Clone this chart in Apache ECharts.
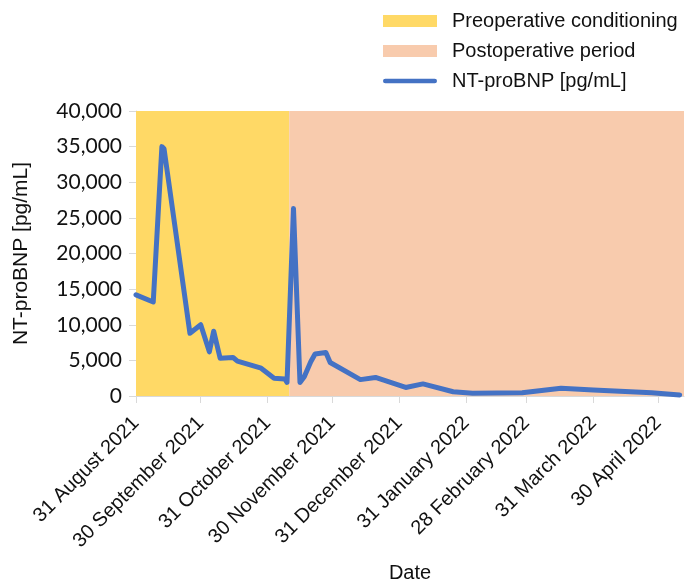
<!DOCTYPE html>
<html>
<head>
<meta charset="utf-8">
<script src="https://cdn.jsdelivr.net/npm/echarts@6/dist/echarts.min.js"></script>
<style>html,body{margin:0;padding:0;background:#fff}#c{width:692px;height:583px}</style>
</head>
<body>
<div id="c"></div>
<script>
// Data
const dates = ['2021-08-31','2021-09-08','2021-09-12','2021-09-13','2021-09-25','2021-09-30','2021-10-04','2021-10-06','2021-10-09','2021-10-15','2021-10-17','2021-10-28','2021-11-03','2021-11-08','2021-11-09','2021-11-12','2021-11-15','2021-11-17','2021-11-20','2021-11-22','2021-11-27','2021-11-29','2021-12-13','2021-12-20','2022-01-03','2022-01-11','2022-01-25','2022-02-03','2022-02-26','2022-03-16','2022-03-31','2022-04-27','2022-05-10'];
const ntProBNP = [14200,13200,35000,34700,8800,10000,6200,9100,5300,5400,4900,3900,2500,2400,1900,26300,1900,2700,4800,5900,6100,4700,2300,2600,1200,1700,600,400,450,1100,850,450,150];
const preopPeriod = ['2021-08-31','2021-11-10'];
const postopPeriod = ['2021-11-10','2022-05-12'];
const xTickDates = ['2021-08-31','2021-09-30','2021-10-31','2021-11-30','2021-12-31','2022-01-31','2022-02-28','2022-03-31','2022-04-30'];
const xTickLabels = ['31 August 2021','30 September 2021','31 October 2021','30 November 2021','31 December 2021','31 January 2022','28 February 2022','31 March 2022','30 April 2022'];
const yTicks = [0,5000,10000,15000,20000,25000,30000,35000,40000];

function ts(s){const p=s.split('-').map(Number);return Date.UTC(p[0],p[1]-1,p[2]);}
const tickTs = xTickDates.map(ts);
const labelMap = {};
tickTs.forEach((t,i)=>{labelMap[t]=xTickLabels[i];});

const lineIcon = 'path://M2.5,0 L55.5,0 A2.5,2.5 0 0 1 55.5,5 L2.5,5 A2.5,2.5 0 0 1 2.5,0 Z';

const chart = echarts.init(document.getElementById('c'));
chart.setOption({
  animation:false,
  grid:{left:136,right:8,top:111,bottom:187,outerBoundsMode:'none',containLabel:false},
  legend:{
    orient:'vertical',left:383,top:11,padding:0,itemWidth:54,itemHeight:12,itemGap:10,
    textStyle:{fontFamily:'Liberation Sans, Arial, sans-serif',fontSize:20,color:'#111',padding:[0,0,0,10]},
    data:[
      {name:'Preoperative conditioning',icon:'rect'},
      {name:'Postoperative period',icon:'rect'},
      {name:'NT-proBNP [pg/mL]',icon:lineIcon,itemStyle:{color:'#4472C4',borderWidth:0},lineStyle:{width:0}}
    ]
  },
  xAxis:{
    type:'value',min:ts('2021-08-31'),max:ts('2022-05-12'),scale:true,
    name:'Date',nameLocation:'middle',nameGap:167,
    nameTextStyle:{fontFamily:'Liberation Sans, Arial, sans-serif',fontSize:20,color:'#111'},
    axisLine:{show:true,lineStyle:{color:'#d9d9d9',width:1}},
    axisTick:{show:true,length:7,lineStyle:{color:'#d9d9d9'},customValues:tickTs},
    axisLabel:{customValues:tickTs,rotate:45,margin:24,fontFamily:'Liberation Sans, Arial, sans-serif',fontSize:20,color:'#111',
      formatter:function(v){return labelMap[v]||'';}},
    splitLine:{show:false}
  },
  yAxis:{
    type:'value',min:0,max:40000,interval:5000,
    name:'NT-proBNP [pg/mL]',nameLocation:'middle',nameGap:104,nameRotate:90,
    nameTextStyle:{fontFamily:'Liberation Sans, Arial, sans-serif',fontSize:21,color:'#111'},
    axisLine:{show:true,lineStyle:{color:'#d9d9d9',width:1}},
    axisTick:{show:true,length:7,lineStyle:{color:'#d9d9d9'},customValues:yTicks},
    axisLabel:{customValues:yTicks,margin:14,fontFamily:'Lato, sans-serif',fontSize:21,color:'#111',
      formatter:function(v){return v.toLocaleString('en-US');}},
    splitLine:{show:false}
  },
  series:[
    {name:'Preoperative conditioning',type:'bar',data:[],itemStyle:{color:'#FFD966'},
      markArea:{silent:true,itemStyle:{color:'#FFD966',opacity:1},data:[[{xAxis:ts(preopPeriod[0])},{xAxis:ts(preopPeriod[1])}]]}},
    {name:'Postoperative period',type:'bar',data:[],itemStyle:{color:'#F8CBAD'},
      markArea:{silent:true,itemStyle:{color:'#F8CBAD',opacity:1},data:[[{xAxis:ts(postopPeriod[0])},{xAxis:ts(postopPeriod[1])}]]}},
    {name:'NT-proBNP [pg/mL]',type:'line',symbol:'none',showSymbol:false,z:5,
      data:dates.map((d,i)=>[ts(d),ntProBNP[i]]),
      itemStyle:{color:'#4472C4'},
      lineStyle:{color:'#4472C4',width:5,cap:'round',join:'round'}}
  ]
});
</script>
</body>
</html>
